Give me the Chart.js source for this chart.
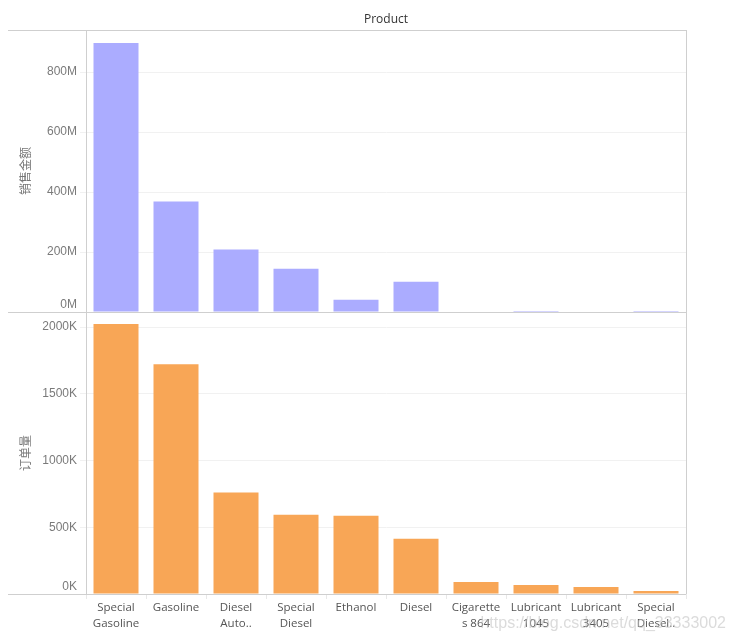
<!DOCTYPE html>
<html lang="zh">
<head>
  <meta charset="UTF-8">
  <title>Product</title>
  <script src="https://cdn.jsdelivr.net/npm/chart.js"></script>
  <style>
    html, body { margin: 0; padding: 0; background: #fff; }
    canvas { display: block; }
  </style>
</head>
<body>
  <canvas id="productChart" width="734" height="642"></canvas>

  <script>
    // data
    const products = ['Special Gasoline', 'Gasoline', 'Diesel Auto..', 'Special Diesel', 'Ethanol',
                      'Diesel', 'Cigarettes 864', 'Lubricant 1045', 'Lubricant 3405', 'Special Diesel..'];
    const productLabels = [['Special', 'Gasoline'], ['Gasoline'], ['Diesel', 'Auto..'], ['Special', 'Diesel'], ['Ethanol'],
                           ['Diesel'], ['Cigarette', 's 864'], ['Lubricant', '1045'], ['Lubricant', '3405'], ['Special', 'Diesel..']];
    const salesAmountM = [897, 368, 208, 144, 41, 101, 0, 3, 0, 3];                 // 销售金额, millions
    const orderCountK = [2023, 1722, 760, 593, 586, 414, 90, 68, 53, 23];           // 订单量, thousands
    const salesTicksM = [0, 200, 400, 600, 800];
    const orderTicksK = [0, 500, 1000, 1500, 2000];

    const tickFont = { family: "'Liberation Sans', Arial, sans-serif", size: 12 };
    const labelFont = { family: "'Open Sans', sans-serif", size: 11.5, lineHeight: 1.45 };
    const cjkFont = { family: "'Noto Sans CJK SC', sans-serif", size: 12 };

    // frame lines, the sheet title and the watermark, like the Tableau export
    const framePlugin = {
      id: 'frame',
      afterDraw(chart) {
        const c = chart.ctx, a = chart.chartArea;
        const top = chart.scales.ySales;
        c.save();
        c.strokeStyle = '#cfcfcf';
        c.lineWidth = 1;
        c.beginPath();
        [a.top, top.bottom, a.bottom].forEach(y => {
          const yy = Math.round(y) + 0.5;
          c.moveTo(8, yy); c.lineTo(a.right, yy);
        });
        c.moveTo(Math.round(a.right) + 0.5, a.top);
        c.lineTo(Math.round(a.right) + 0.5, a.bottom);
        c.stroke();

        c.fillStyle = '#333';
        c.font = "12px 'Open Sans', sans-serif";
        c.textAlign = 'center';
        c.textBaseline = 'middle';
        c.fillText('Product', (a.left + a.right) / 2, 20);

        c.fillStyle = 'rgba(190,190,190,0.55)';
        c.font = "16px 'Liberation Sans', Arial, sans-serif";
        c.textAlign = 'right';
        c.fillText('https://blog.csdn.net/qq_33333002', 726, 624);
        c.restore();
      }
    };

    const onlySteps = list => scale => {
      scale.ticks = list.map(v => ({ value: v }));
    };
    // the zero label sits just above the baseline, as in Tableau
    const tickText = unit => v => v === 0 ? ['0' + unit, ''] : v + unit;

    const ctx = document.getElementById('productChart').getContext('2d');
    const productChart = new Chart(ctx, {
      type: 'bar',
      data: {
        labels: productLabels,
        datasets: [{
          label: '销售金额',
          data: salesAmountM,
          backgroundColor: '#abacff',
          yAxisID: 'ySales',
          grouped: false,
          categoryPercentage: 1,
          barPercentage: 0.75
        }, {
          label: '订单量',
          data: orderCountK,
          backgroundColor: '#f8a656',
          yAxisID: 'yOrders',
          grouped: false,
          categoryPercentage: 1,
          barPercentage: 0.75
        }]
      },
      options: {
        responsive: false,
        animation: false,
        layout: { padding: { left: 8, right: 48, top: 30, bottom: 0 } },
        plugins: {
          legend: { display: false },
          tooltip: { enabled: false },
          title: { display: false }
        },
        scales: {
          x: {
            grid: { drawOnChartArea: false, color: '#e8e8e8', tickLength: 5, offset: true },
            border: { display: false },
            ticks: { color: '#555', font: labelFont, padding: 0, maxRotation: 0, autoSkip: false },
            afterFit: s => { s.height = 48; }
          },
          ySales: {
            position: 'left',
            stack: 'panels',
            stackWeight: 1,
            weight: 2,
            min: 0,
            max: 940,
            grid: { color: '#f1f1f1', tickLength: 6 },
            border: { color: '#cfcfcf' },
            afterBuildTicks: onlySteps(salesTicksM),
            ticks: {
              color: '#7a7a7a',
              font: tickFont,
              padding: 3,
              callback: tickText('M')
            },
            title: { display: true, text: '销售金额', color: '#777', font: cjkFont, padding: { top: 10, bottom: 0 } },
            afterFit: s => { s.width = 78; }
          },
          yOrders: {
            position: 'left',
            stack: 'panels',
            stackWeight: 1,
            weight: 1,
            min: 0,
            max: 2113,
            grid: { color: '#f1f1f1', tickLength: 6 },
            border: { color: '#cfcfcf' },
            afterBuildTicks: onlySteps(orderTicksK),
            ticks: {
              color: '#7a7a7a',
              font: tickFont,
              padding: 3,
              callback: tickText('K')
            },
            title: { display: true, text: '订单量', color: '#777', font: cjkFont, padding: { top: 10, bottom: 0 } },
            afterFit: s => { s.width = 78; }
          }
        }
      },
      plugins: [framePlugin]
    });
  </script>
</body>
</html>
